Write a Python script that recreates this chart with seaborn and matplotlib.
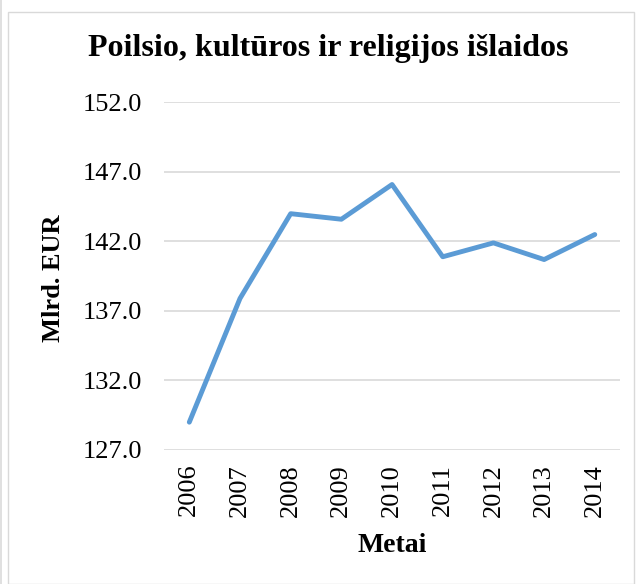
import matplotlib
matplotlib.use("Agg")
import matplotlib.pyplot as plt
import seaborn as sns
import pandas as pd
from matplotlib.patches import Rectangle

years = ["2006", "2007", "2008", "2009", "2010", "2011", "2012", "2013", "2014"]
spending = [129.0, 137.9, 144.0, 143.6, 146.1, 140.9, 141.9, 140.7, 142.5]
y_ticks = [127.0, 132.0, 137.0, 142.0, 147.0, 152.0]

sns.set_style("white")
plt.rcParams["font.family"] = ["Liberation Serif", "DejaVu Serif"]
plt.rcParams["text.color"] = "black"
plt.rcParams["xtick.color"] = "black"
plt.rcParams["ytick.color"] = "black"
plt.rcParams["axes.labelcolor"] = "black"

df = pd.DataFrame({"Metai": years, "value": spending})

fig = plt.figure(figsize=(6.38, 5.84), dpi=100)
ax = fig.add_axes([0.257, 0.2295, 0.715, 0.595])

sns.lineplot(data=df, x="Metai", y="value", ax=ax, color="#5B9BD5",
             linewidth=3.5, sort=False)

ax.set_xlim(-0.5, len(years) - 0.5)
ax.set_ylim(y_ticks[0], y_ticks[-1])
ax.set_yticks(y_ticks)
ax.set_yticklabels([f"{v:.1f}" for v in y_ticks], fontsize=19)
ax.set_xticks(range(len(years)))
ax.set_xticklabels(years, rotation=90, fontsize=19)
ax.tick_params(axis="y", length=0, pad=16)
ax.tick_params(axis="x", length=0, pad=10)
ax.yaxis.grid(True, color="#D9D9D9", linewidth=1.2)
ax.set_axisbelow(True)
for s in ax.spines.values():
    s.set_visible(False)

ax.set_xlabel("")
ax.set_ylabel("")
fig.text(392 / 638, 1 - 552 / 584, "Metai", ha="center", va="baseline",
         fontsize=20, fontweight="bold")
fig.text(54 / 638, 1 - 278 / 584, "Mlrd. EUR", ha="center", va="center",
         rotation=90, fontsize=19, fontweight="bold")
fig.text(328 / 638, 1 - 56 / 584, "Poilsio, kultūros ir religijos išlaidos",
         ha="center", va="baseline", fontsize=23, fontweight="bold")

# outer chart frame
fig.patches.append(Rectangle((8 / 638, 0), 626 / 638, 1 - 12 / 584,
                             transform=fig.transFigure, fill=False,
                             edgecolor="#D9D9D9", linewidth=1))
fig.patches.append(Rectangle((0, 0), 2 / 638, 1, transform=fig.transFigure,
                             facecolor="#E0E0E0", edgecolor="none"))

fig.savefig("out.png", dpi=100)
